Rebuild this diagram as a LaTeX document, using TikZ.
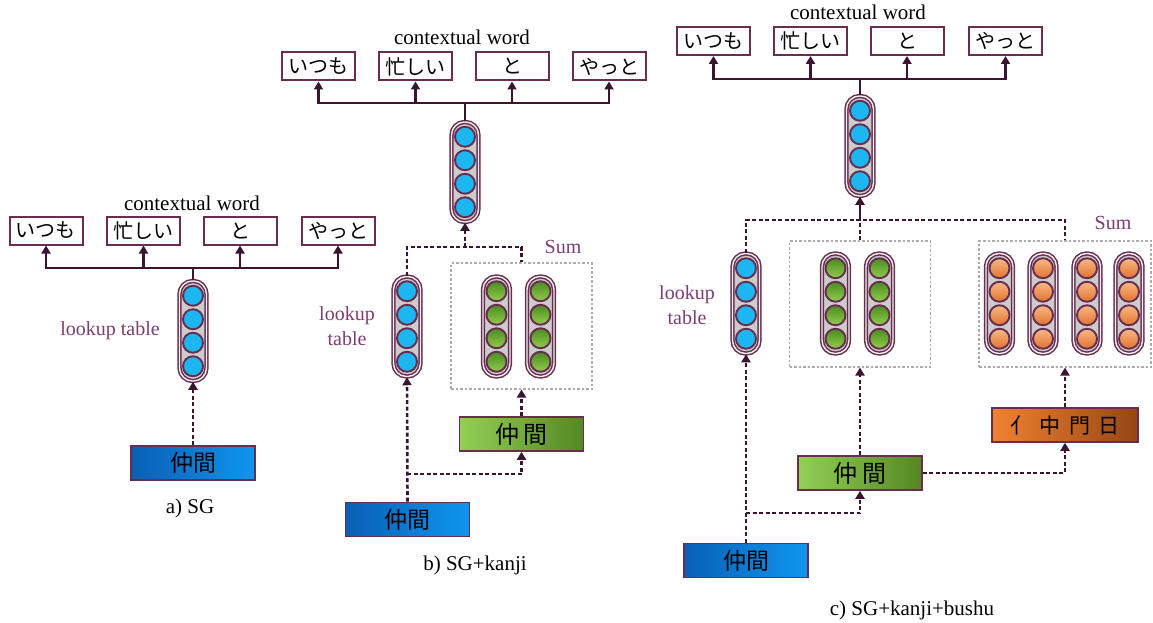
\documentclass[tikz,border=0pt]{standalone}
\usepackage{fontspec}
\setmainfont{Liberation Serif}
\newfontfamily\cjk{Noto Sans CJK JP}
\usetikzlibrary{arrows.meta,shadings}
\definecolor{edgec}{RGB}{105,45,80}
\definecolor{linec}{RGB}{60,20,50}
\definecolor{labc}{RGB}{125,60,115}
\definecolor{bl1}{RGB}{10,95,180}
\definecolor{bl2}{RGB}{15,150,240}
\definecolor{gr1}{RGB}{145,208,85}
\definecolor{gr2}{RGB}{85,135,35}
\definecolor{or1}{RGB}{240,130,50}
\definecolor{or2}{RGB}{150,70,20}
\definecolor{cblue}{RGB}{28,182,240}
\definecolor{cg1}{RGB}{75,140,35}
\definecolor{cg2}{RGB}{145,205,75}
\definecolor{co1}{RGB}{248,185,135}
\definecolor{co2}{RGB}{225,115,45}
\newcommand\vstack[4]{%
  \node[capsule] (#1) at (#2,#3) {};
  \foreach \k/\o in {1/-35.25,2/-11.75,3/11.75,4/35.25}
    \node[circ,#4] (#1-\k) at (#2,#3+\o) {};
}
\begin{document}
\begin{tikzpicture}[x=1pt,y=-1pt,
  wordbox/.style={draw=edgec, line width=2pt, fill=white, minimum width=73pt, minimum height=28pt, inner sep=0pt, font=\cjk\fontsize{20}{20}\selectfont},
  inbox/.style={draw=edgec, line width=1.6pt, minimum width=124pt, minimum height=34pt, inner sep=0pt},
  blueshade/.style={left color=bl1, right color=bl2, font=\cjk\fontsize{23}{23}\selectfont},
  greenshade/.style={left color=gr1, right color=gr2, font=\cjk\fontsize{24}{24}\selectfont},
  orangeshade/.style={left color=or1, right color=or2, font=\cjk\fontsize{21}{21}\selectfont},
  capsule/.style={draw=edgec, line width=1.5pt, double=gray!12, double distance=1.4pt, fill=gray!40, rounded corners=13pt, minimum width=27pt, minimum height=100pt, inner sep=0pt},
  circ/.style={circle, draw=edgec, line width=1.9pt, minimum size=20pt, inner sep=0pt},
  bluec/.style={fill=cblue},
  greenc/.style={top color=cg1, bottom color=cg2},
  orangec/.style={top color=co1, bottom color=co2},
  sumbox/.style={draw=gray!65, line width=1.1pt, dash pattern=on 2.5pt off 2pt, inner sep=0pt},
  conn/.style={draw=linec, line width=2.6pt},
  dconn/.style={conn, dash pattern=on 4pt off 2.5pt},
  arr/.style={-{Triangle[width=9pt,length=8pt]}},
  lab/.style={text=labc, font=\fontsize{20}{25}\selectfont, align=center},
  txt/.style={font=\fontsize{21}{24}\selectfont}
]
\useasboundingbox (0,0) rectangle (1153,623);

% ---------------- panel a ----------------
\node[txt] (actx) at (192,203) {contextual word};
\node[wordbox] (aw1) at (46,230.5) {いつも};
\node[wordbox] (aw2) at (143.5,230.5) {忙しい};
\node[wordbox] (aw3) at (240,230.5) {と};
\node[wordbox] (aw4) at (338,230.5) {やっと};
\vstack{va}{193}{331}{bluec}
\node[lab] (alab) at (110,331) {lookup table};
\node[inbox,blueshade] (ain) at (193,463) {仲間};
\node[txt] (acap) at (190,508) {a) SG};
\coordinate (aj) at (193,268);
\draw[conn] (va.north) -- (aj);
\foreach \w in {aw1,aw2,aw3,aw4} \draw[conn,arr] (aj) -| (\w.south);
\draw[dconn,arr] (ain.north) -- (va.south);

% ---------------- panel b ----------------
\node[txt] (bctx) at (462,37) {contextual word};
\node[wordbox] (bw1) at (318.5,66.5) {いつも};
\node[wordbox] (bw2) at (415.5,66.5) {忙しい};
\node[wordbox] (bw3) at (512,66.5) {と};
\node[wordbox] (bw4) at (609,66.5) {やっと};
\vstack{vb}{465}{172}{bluec}
\node[sumbox, minimum width=141pt, minimum height=126pt] (bsum) at (521.5,326) {};
\node[lab] (bsuml) at (563,247) {Sum};
\vstack{bl}{407}{326.5}{bluec}
\vstack{bg1}{496.5}{326.5}{greenc}
\vstack{bg2}{540.5}{326.5}{greenc}
\node[lab] (blab) at (347,326) {lookup\\table};
\node[inbox,greenshade] (bg) at (521.5,434) {仲\hspace{0.2em}間};
\node[inbox,blueshade] (bin) at (407.5,519.5) {仲間};
\node[txt] (bcap) at (475,565) {b) SG+kanji};
\coordinate (bj) at (465,103);
\draw[conn] (vb.north) -- (bj);
\foreach \w in {bw1,bw2,bw3,bw4} \draw[conn,arr] (bj) -| (\w.south);
\coordinate (bd) at (465,247);
\draw[dconn] (bl.north) |- (bd) -| (bsum.north);
\draw[dconn,arr] (bd) -- (vb.south);
\draw[dconn,arr] (bin.north) -- (bl.south);
\coordinate (bb) at (407,474);
\draw[dconn,arr] (bb) -| (bg.south);
\draw[dconn,arr] (bg.north) -- (bsum.south);

% ---------------- panel c ----------------
\node[txt] (cctx) at (858,12) {contextual word};
\node[wordbox] (cw1) at (713.5,41) {いつも};
\node[wordbox] (cw2) at (810.5,41) {忙しい};
\node[wordbox] (cw3) at (907,41) {と};
\node[wordbox] (cw4) at (1005.5,41) {やっと};
\vstack{vc}{860}{146}{bluec}
\node[sumbox, minimum width=141pt, minimum height=126pt] (csg) at (860,304) {};
\node[sumbox, minimum width=172pt, minimum height=126pt] (cso) at (1065,304) {};
\node[lab] (csuml) at (1113,223) {Sum};
\vstack{cl}{746}{303.5}{bluec}
\vstack{cg1}{835.5}{303.5}{greenc}
\vstack{cg2}{879.5}{303.5}{greenc}
\vstack{co1}{999.5}{303.5}{orangec}
\vstack{co2}{1043}{303.5}{orangec}
\vstack{co3}{1087}{303.5}{orangec}
\vstack{co4}{1129}{303.5}{orangec}
\node[lab] (clab) at (687,305) {lookup\\table};
\node[inbox,greenshade] (cg) at (860,473) {仲\hspace{0.2em}間};
\node[inbox,orangeshade, minimum width=146pt] (co) at (1065,425) {亻\hspace{0.4em}中\hspace{0.4em}門\hspace{0.4em}日};
\node[inbox,blueshade] (cin) at (746,560.5) {仲間};
\node[txt] (ccap) at (912,610) {c) SG+kanji+bushu};
\coordinate (cj) at (860,79);
\draw[conn] (vc.north) -- (cj);
\foreach \w in {cw1,cw2,cw3,cw4} \draw[conn,arr] (cj) -| (\w.south);
\coordinate (cd) at (860,220);
\draw[dconn] (cl.north) |- (cd) -| (cso.north);
\draw[dconn] (csg.north) -- (cd);
\draw[conn,arr] (cd) -- (vc.south);
\draw[dconn,arr] (cin.north) -- (cl.south);
\coordinate (cb) at (746,513);
\draw[dconn,arr] (cb) -| (cg.south);
\draw[dconn,arr] (cg.north) -- (csg.south);
\draw[dconn,arr] (cg.east) -| (co.south);
\draw[dconn,arr] (co.north) -- (cso.south);
\end{tikzpicture}
\end{document}
